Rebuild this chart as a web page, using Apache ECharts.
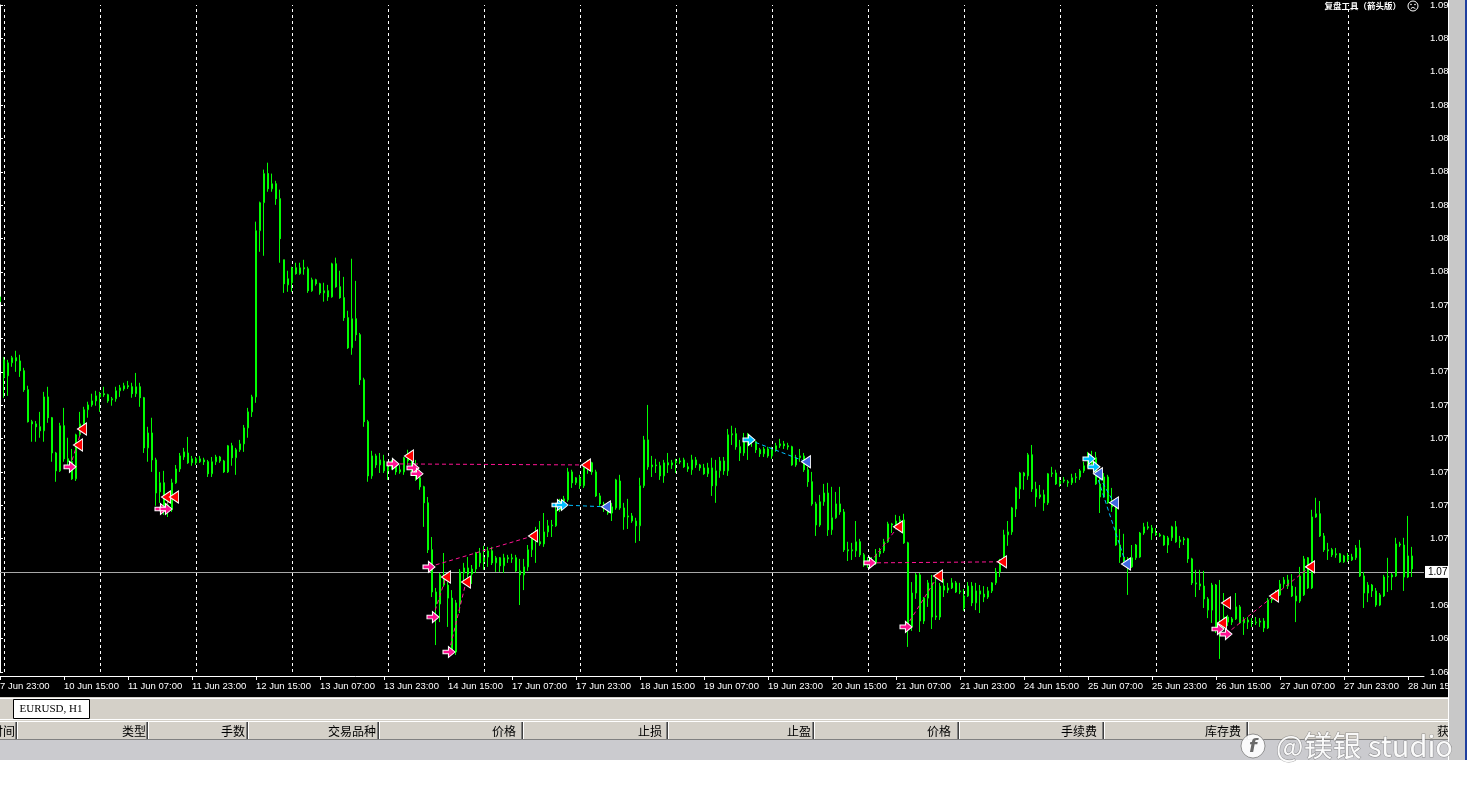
<!DOCTYPE html>
<html><head><meta charset="utf-8">
<script src="https://cdn.jsdelivr.net/npm/echarts@6/dist/echarts.min.js"></script>
<style>html,body{margin:0;padding:0;background:#fff;width:1467px;height:794px;overflow:hidden}#c{width:1467px;height:794px}</style>
</head><body><div id="c"></div>
<script>
// ---------- DATA ----------
const xTickLabels = ['7 Jun 23:00','10 Jun 15:00','11 Jun 07:00','11 Jun 23:00','12 Jun 15:00','13 Jun 07:00','13 Jun 23:00','14 Jun 15:00','17 Jun 07:00','17 Jun 23:00','18 Jun 15:00','19 Jun 07:00','19 Jun 23:00','20 Jun 15:00','21 Jun 07:00','21 Jun 23:00','24 Jun 15:00','25 Jun 07:00','25 Jun 23:00','26 Jun 15:00','27 Jun 07:00','27 Jun 23:00','28 Jun 15:00'];
const yTickLabels = ['1.09','1.08','1.08','1.08','1.08','1.08','1.08','1.08','1.08','1.07','1.07','1.07','1.07','1.07','1.07','1.07','1.07','1.06','1.06','1.06','1.06'];
const daySeparators = [1,25,49,73,97,121,145,169,193,217,241,265,289,313,337];
// [open, close, low, high], one hourly bar each, EURUSD H1
const candles = [
[1.08013,1.08031,1.08009,1.08046],[1.07795,1.07728,1.07653,1.07806],[1.07735,1.07784,1.07660,1.07795],[1.07784,1.07803,1.07769,1.07810],
[1.07803,1.07791,1.07750,1.07829],[1.07791,1.07754,1.07731,1.07814],[1.07754,1.07683,1.07675,1.07765],[1.07683,1.07563,1.07560,1.07698],
[1.07563,1.07555,1.07488,1.07570],[1.07555,1.07544,1.07488,1.07566],[1.07544,1.07529,1.07503,1.07600],[1.07529,1.07656,1.07488,1.07675],
[1.07656,1.07578,1.07559,1.07694],[1.07578,1.07446,1.07413,1.07581],[1.07446,1.07379,1.07338,1.07450],[1.07379,1.07548,1.07375,1.07559],
[1.07548,1.07424,1.07413,1.07615],[1.07424,1.07413,1.07401,1.07503],[1.07413,1.07349,1.07345,1.07461],[1.07349,1.07514,1.07341,1.07518],
[1.07514,1.07555,1.07506,1.07600],[1.07555,1.07608,1.07544,1.07619],[1.07608,1.07626,1.07578,1.07638],[1.07626,1.07641,1.07619,1.07668],
[1.07641,1.07660,1.07623,1.07679],[1.07656,1.07668,1.07600,1.07675],[1.07668,1.07664,1.07656,1.07694],[1.07664,1.07641,1.07634,1.07668],
[1.07645,1.07649,1.07623,1.07656],[1.07649,1.07679,1.07638,1.07694],[1.07679,1.07690,1.07656,1.07701],[1.07686,1.07698,1.07679,1.07709],
[1.07698,1.07694,1.07686,1.07716],[1.07694,1.07668,1.07653,1.07709],[1.07668,1.07694,1.07656,1.07746],[1.07694,1.07653,1.07619,1.07709],
[1.07653,1.07465,1.07446,1.07656],[1.07465,1.07521,1.07413,1.07544],[1.07521,1.07420,1.07375,1.07578],[1.07420,1.07296,1.07248,1.07428],
[1.07300,1.07334,1.07259,1.07375],[1.07334,1.07240,1.07214,1.07379],[1.07240,1.07251,1.07206,1.07278],[1.07233,1.07334,1.07225,1.07349],
[1.07334,1.07386,1.07330,1.07401],[1.07386,1.07435,1.07375,1.07446],[1.07431,1.07450,1.07420,1.07465],[1.07446,1.07409,1.07405,1.07506],
[1.07409,1.07424,1.07398,1.07435],[1.07424,1.07409,1.07401,1.07431],[1.07413,1.07424,1.07409,1.07435],[1.07420,1.07413,1.07401,1.07428],
[1.07413,1.07368,1.07356,1.07420],[1.07368,1.07413,1.07356,1.07431],[1.07413,1.07431,1.07401,1.07439],[1.07431,1.07416,1.07409,1.07435],
[1.07416,1.07375,1.07371,1.07420],[1.07375,1.07473,1.07371,1.07476],[1.07473,1.07428,1.07398,1.07484],[1.07428,1.07458,1.07364,1.07465],
[1.07458,1.07480,1.07450,1.07495],[1.07480,1.07540,1.07450,1.07551],[1.07540,1.07600,1.07503,1.07615],[1.07600,1.07656,1.07581,1.07664],
[1.07656,1.08279,1.07634,1.08313],[1.08279,1.08384,1.08200,1.08388],[1.08384,1.08493,1.08185,1.08508],[1.08493,1.08436,1.08425,1.08534],
[1.08436,1.08455,1.08425,1.08493],[1.08455,1.08399,1.08376,1.08466],[1.08399,1.08249,1.08159,1.08433],[1.08170,1.08080,1.08046,1.08170],
[1.08076,1.08099,1.08050,1.08129],[1.08084,1.08140,1.08050,1.08144],[1.08140,1.08118,1.08114,1.08159],[1.08118,1.08140,1.08114,1.08159],
[1.08140,1.08136,1.08114,1.08170],[1.08136,1.08054,1.08046,1.08144],[1.08054,1.08095,1.08050,1.08103],[1.08095,1.08080,1.08073,1.08099],
[1.08080,1.08046,1.08039,1.08084],[1.08046,1.08054,1.08013,1.08084],[1.08054,1.08031,1.08016,1.08076],[1.08031,1.08155,1.08028,1.08159],
[1.08155,1.08069,1.08065,1.08178],[1.08069,1.08028,1.08024,1.08129],[1.08028,1.07953,1.07941,1.08106],[1.07953,1.07840,1.07836,1.07979],
[1.07840,1.07949,1.07814,1.08174],[1.07949,1.07889,1.07866,1.08091],[1.07889,1.07720,1.07701,1.07896],[1.07720,1.07563,1.07544,1.07728],
[1.07563,1.07360,1.07338,1.07570],[1.07360,1.07435,1.07349,1.07454],[1.07435,1.07401,1.07390,1.07443],[1.07401,1.07420,1.07371,1.07446],
[1.07416,1.07379,1.07371,1.07439],[1.07379,1.07394,1.07345,1.07413],[1.07394,1.07405,1.07383,1.07420],[1.07405,1.07375,1.07364,1.07413],
[1.07375,1.07383,1.07368,1.07401],[1.07375,1.07428,1.07364,1.07431],[1.07428,1.07416,1.07401,1.07458],[1.07416,1.07383,1.07368,1.07420],
[1.07383,1.07353,1.07341,1.07420],[1.07353,1.07319,1.07308,1.07383],[1.07319,1.07259,1.07169,1.07323],[1.07259,1.07083,1.07071,1.07281],
[1.07083,1.06925,1.06906,1.07131],[1.06925,1.06880,1.06726,1.06940],[1.06880,1.06989,1.06812,1.06996],[1.06989,1.06951,1.06944,1.07071],
[1.06951,1.06902,1.06794,1.06962],[1.06902,1.06704,1.06696,1.06932],[1.06700,1.06884,1.06689,1.06895],[1.06880,1.07000,1.06846,1.07011],
[1.06996,1.07015,1.06962,1.07034],[1.07015,1.06992,1.06959,1.07056],[1.06992,1.07011,1.06955,1.07026],[1.07011,1.07071,1.06996,1.07075],
[1.07071,1.07034,1.07019,1.07090],[1.07038,1.07053,1.07008,1.07098],[1.07056,1.07079,1.07019,1.07094],[1.07079,1.07034,1.07026,1.07094],
[1.07034,1.07053,1.07000,1.07060],[1.07053,1.07023,1.07000,1.07056],[1.07023,1.07053,1.06996,1.07068],[1.07053,1.07049,1.07034,1.07064],
[1.07049,1.07053,1.07034,1.07068],[1.07053,1.07004,1.07000,1.07064],[1.07004,1.06989,1.06876,1.07049],[1.06989,1.07019,1.06932,1.07049],
[1.07019,1.07083,1.07004,1.07101],[1.07083,1.07128,1.07056,1.07146],[1.07128,1.07113,1.07034,1.07169],[1.07113,1.07105,1.07098,1.07191],
[1.07105,1.07150,1.07094,1.07221],[1.07150,1.07173,1.07131,1.07195],[1.07173,1.07176,1.07131,1.07195],[1.07173,1.07233,1.07169,1.07244],
[1.07233,1.07266,1.07225,1.07274],[1.07266,1.07274,1.07259,1.07285],[1.07270,1.07375,1.07263,1.07390],[1.07375,1.07334,1.07315,1.07383],
[1.07334,1.07353,1.07326,1.07356],[1.07353,1.07323,1.07311,1.07364],[1.07323,1.07390,1.07315,1.07394],[1.07390,1.07413,1.07368,1.07420],
[1.07409,1.07375,1.07364,1.07413],[1.07375,1.07285,1.07281,1.07383],[1.07285,1.07255,1.07248,1.07296],[1.07255,1.07248,1.07225,1.07263],
[1.07248,1.07221,1.07214,1.07259],[1.07221,1.07244,1.07191,1.07259],[1.07240,1.07345,1.07233,1.07349],[1.07341,1.07240,1.07233,1.07364],
[1.07240,1.07206,1.07158,1.07259],[1.07206,1.07210,1.07161,1.07274],[1.07210,1.07191,1.07184,1.07221],[1.07191,1.07173,1.07109,1.07203],
[1.07173,1.07323,1.07116,1.07353],[1.07323,1.07495,1.07315,1.07510],[1.07495,1.07394,1.07383,1.07626],[1.07394,1.07401,1.07356,1.07435],
[1.07401,1.07398,1.07371,1.07424],[1.07398,1.07360,1.07345,1.07413],[1.07360,1.07409,1.07334,1.07420],[1.07409,1.07401,1.07371,1.07446],
[1.07401,1.07409,1.07386,1.07420],[1.07409,1.07416,1.07371,1.07424],[1.07416,1.07413,1.07405,1.07428],[1.07420,1.07394,1.07390,1.07428],
[1.07394,1.07386,1.07375,1.07409],[1.07383,1.07420,1.07364,1.07439],[1.07420,1.07401,1.07390,1.07431],[1.07401,1.07390,1.07379,1.07405],
[1.07390,1.07368,1.07364,1.07405],[1.07368,1.07390,1.07356,1.07409],[1.07390,1.07323,1.07285,1.07428],[1.07323,1.07379,1.07259,1.07420],
[1.07379,1.07416,1.07353,1.07431],[1.07416,1.07379,1.07364,1.07431],[1.07379,1.07514,1.07360,1.07536],[1.07514,1.07518,1.07476,1.07548],
[1.07518,1.07469,1.07458,1.07540],[1.07469,1.07446,1.07416,1.07495],[1.07446,1.07495,1.07435,1.07521],[1.07495,1.07491,1.07420,1.07521],
[1.07491,1.07488,1.07469,1.07495],[1.07488,1.07458,1.07446,1.07491],[1.07458,1.07443,1.07431,1.07465],[1.07443,1.07461,1.07431,1.07469],
[1.07461,1.07435,1.07428,1.07469],[1.07435,1.07458,1.07424,1.07469],[1.07458,1.07473,1.07450,1.07484],[1.07473,1.07480,1.07465,1.07499],
[1.07480,1.07473,1.07461,1.07491],[1.07473,1.07469,1.07458,1.07484],[1.07469,1.07401,1.07398,1.07473],[1.07401,1.07428,1.07394,1.07439],
[1.07428,1.07435,1.07413,1.07461],[1.07435,1.07383,1.07375,1.07446],[1.07383,1.07338,1.07319,1.07394],[1.07338,1.07255,1.07248,1.07375],
[1.07255,1.07176,1.07135,1.07263],[1.07176,1.07263,1.07169,1.07289],[1.07263,1.07296,1.07248,1.07330],[1.07296,1.07158,1.07135,1.07334],
[1.07158,1.07203,1.07139,1.07319],[1.07203,1.07255,1.07199,1.07300],[1.07255,1.07225,1.07214,1.07319],[1.07225,1.07083,1.07075,1.07236],
[1.07083,1.07079,1.07041,1.07113],[1.07079,1.07083,1.07045,1.07109],[1.07079,1.07113,1.07056,1.07191],[1.07113,1.07064,1.07056,1.07124],
[1.07064,1.07026,1.07019,1.07071],[1.07026,1.07045,1.07015,1.07056],[1.07045,1.07038,1.07026,1.07056],[1.07034,1.07068,1.07026,1.07086],
[1.07068,1.07079,1.07056,1.07090],[1.07079,1.07113,1.07071,1.07124],[1.07113,1.07180,1.07109,1.07188],[1.07180,1.07176,1.07146,1.07184],
[1.07176,1.07191,1.07169,1.07214],[1.07191,1.07195,1.07184,1.07210],[1.07195,1.07109,1.07105,1.07218],[1.07109,1.06794,1.06719,1.07113],
[1.06794,1.06921,1.06779,1.06962],[1.06921,1.06989,1.06899,1.06996],[1.06989,1.06816,1.06775,1.06996],[1.06816,1.06902,1.06805,1.06906],
[1.06902,1.06959,1.06869,1.06970],[1.06959,1.06831,1.06786,1.06989],[1.06831,1.06835,1.06820,1.06981],[1.06831,1.06947,1.06820,1.06959],
[1.06947,1.06932,1.06906,1.06974],[1.06932,1.06940,1.06921,1.06959],[1.06940,1.06959,1.06936,1.06977],[1.06959,1.06925,1.06921,1.06966],
[1.06925,1.06929,1.06917,1.06959],[1.06865,1.06910,1.06854,1.06936],[1.06910,1.06947,1.06906,1.06962],[1.06947,1.06884,1.06872,1.06962],
[1.06884,1.06929,1.06857,1.06959],[1.06929,1.06917,1.06846,1.06951],[1.06917,1.06906,1.06887,1.06947],[1.06906,1.06929,1.06899,1.06944],
[1.06929,1.06959,1.06921,1.06962],[1.06959,1.07000,1.06951,1.07015],[1.07000,1.07041,1.06981,1.07049],[1.07041,1.07139,1.07038,1.07158],
[1.07139,1.07150,1.07098,1.07191],[1.07150,1.07240,1.07139,1.07244],[1.07236,1.07315,1.07206,1.07319],[1.07311,1.07371,1.07274,1.07375],
[1.07371,1.07360,1.07308,1.07375],[1.07360,1.07439,1.07345,1.07446],[1.07439,1.07311,1.07300,1.07476],[1.07311,1.07281,1.07244,1.07338],
[1.07281,1.07289,1.07274,1.07326],[1.07289,1.07259,1.07229,1.07308],[1.07259,1.07368,1.07251,1.07371],[1.07368,1.07371,1.07356,1.07394],
[1.07371,1.07330,1.07326,1.07383],[1.07330,1.07341,1.07319,1.07356],[1.07341,1.07345,1.07334,1.07356],[1.07338,1.07334,1.07319,1.07345],
[1.07334,1.07353,1.07326,1.07368],[1.07353,1.07356,1.07334,1.07371],[1.07356,1.07379,1.07345,1.07386],[1.07379,1.07398,1.07371,1.07413],
[1.07398,1.07405,1.07390,1.07450],[1.07405,1.07428,1.07401,1.07454],[1.07428,1.07330,1.07326,1.07450],[1.07330,1.07281,1.07221,1.07371],
[1.07281,1.07356,1.07278,1.07371],[1.07356,1.07259,1.07255,1.07364],[1.07259,1.07244,1.07225,1.07315],[1.07244,1.07101,1.07098,1.07248],
[1.07101,1.07056,1.07034,1.07161],[1.07056,1.07041,1.07034,1.07143],[1.07041,1.07049,1.06914,1.07056],[1.07019,1.07053,1.07015,1.07101],
[1.07053,1.07101,1.07045,1.07105],[1.07056,1.07146,1.07053,1.07150],[1.07146,1.07169,1.07139,1.07184],[1.07169,1.07165,1.07158,1.07188],
[1.07165,1.07146,1.07120,1.07176],[1.07146,1.07139,1.07135,1.07165],[1.07139,1.07135,1.07131,1.07146],[1.07135,1.07101,1.07098,1.07139],
[1.07101,1.07128,1.07071,1.07135],[1.07128,1.07169,1.07116,1.07173],[1.07169,1.07113,1.07109,1.07191],[1.07113,1.07120,1.07090,1.07135],
[1.07120,1.07124,1.07101,1.07131],[1.07124,1.07049,1.07034,1.07128],[1.07049,1.06959,1.06951,1.07053],[1.06959,1.06955,1.06906,1.07008],
[1.06955,1.06947,1.06932,1.07008],[1.06947,1.06899,1.06865,1.07004],[1.06899,1.06857,1.06827,1.06906],[1.06857,1.06951,1.06809,1.06959],
[1.06951,1.06782,1.06771,1.06955],[1.06782,1.06775,1.06674,1.06970],[1.06809,1.06831,1.06782,1.06921],[1.06831,1.06812,1.06797,1.06839],
[1.06812,1.06824,1.06801,1.06831],[1.06824,1.06869,1.06820,1.06921],[1.06869,1.06809,1.06805,1.06876],[1.06809,1.06820,1.06764,1.06831],
[1.06820,1.06812,1.06786,1.06831],[1.06812,1.06809,1.06794,1.06827],[1.06809,1.06812,1.06801,1.06831],[1.06812,1.06816,1.06794,1.06827],
[1.06816,1.06790,1.06775,1.06827],[1.06790,1.06895,1.06786,1.06902],[1.06895,1.06899,1.06884,1.06910],[1.06899,1.06917,1.06895,1.06932],
[1.06914,1.06955,1.06910,1.06970],[1.06955,1.06970,1.06940,1.06981],[1.06970,1.06947,1.06936,1.06989],[1.06947,1.06910,1.06906,1.06992],
[1.06910,1.06891,1.06812,1.06944],[1.06891,1.06985,1.06884,1.07019],[1.06914,1.07049,1.06910,1.07060],[1.07053,1.06940,1.06936,1.07056],
[1.06940,1.07206,1.06936,1.07233],[1.07206,1.07218,1.07203,1.07278],[1.07218,1.07135,1.07131,1.07266],[1.07135,1.07083,1.07075,1.07146],
[1.07083,1.07079,1.07045,1.07109],[1.07083,1.07064,1.07056,1.07090],[1.07064,1.07068,1.07053,1.07090],[1.07068,1.07038,1.07034,1.07071],
[1.07038,1.07060,1.07034,1.07064],[1.07060,1.07045,1.07038,1.07071],[1.07045,1.07056,1.07041,1.07068],[1.07053,1.07090,1.07045,1.07101],
[1.07090,1.06985,1.06981,1.07120],[1.06985,1.06921,1.06865,1.07000],[1.06921,1.06951,1.06887,1.06962],[1.06951,1.06929,1.06906,1.06955],
[1.06929,1.06876,1.06869,1.06940],[1.06876,1.06914,1.06872,1.06921],[1.06910,1.06981,1.06906,1.06989],[1.06981,1.06983,1.06925,1.07053],
[1.06981,1.06989,1.06932,1.06996],[1.06985,1.07105,1.06981,1.07128],[1.07105,1.07101,1.07094,1.07113],[1.07101,1.06981,1.06929,1.07128],
[1.06981,1.07060,1.06977,1.07210],[1.07060,1.07011,1.06981,1.07094]
];
// trade arrows: [bar position, price]
const entryPink = [[17.5,1.07394],[40.25,1.07236],[41.5,1.07236],[98.25,1.07405],[103.25,1.07390],[104.25,1.07368],[107.25,1.07019],[108.25,1.06831],[112.25,1.06700],[217.5,1.07034],[226.5,1.06794],[304.5,1.06786],[306.5,1.06767]];
const exitRed = [[20.5,1.07536],[19.5,1.07476],[41.5,1.07281],[43.5,1.07281],[102.25,1.07435],[146.5,1.07401],[133.25,1.07135],[111.5,1.06981],[116.5,1.06962],[224.5,1.07169],[250.5,1.07038],[234.5,1.06985],[306.5,1.06884],[305.5,1.06809],[318.5,1.06910],[327.5,1.07019]];
const entryCyan = [[139.5,1.07251],[140.5,1.07251],[187.25,1.07495],[272.25,1.07424],[273.5,1.07394]];
const exitBlue = [[151.5,1.07244],[201.5,1.07413],[274.5,1.07368],[278.5,1.07259],[281.5,1.07030]];
const pinkLinks = [[17.5,1.07394,20.5,1.07536],[40.25,1.07236,43.5,1.07281],[98.25,1.07405,146.5,1.07401],[107.25,1.07019,133.25,1.07135],[108.25,1.06831,111.5,1.06981],[112.25,1.06700,116.5,1.06962],[217.5,1.07034,250.5,1.07038],[217.5,1.07034,224.5,1.07169],[226.5,1.06794,234.5,1.06985],[306.5,1.06767,327.5,1.07019]];
const cyanLinks = [[140.5,1.07251,151.5,1.07244],[187.25,1.07495,201.5,1.07413],[272.25,1.07424,278.5,1.07259],[273.5,1.07394,281.5,1.07030]];
const headerTexts = ['时间','类型','手数','交易品种','价格','止损','止盈','价格','手续费','库存费'];

// ---------- CONFIG ----------
const BAR_SLOTS = 357, LABEL_EVERY = 16;
const Y_MIN = 1.06625, Y_MAX = 1.09125, Y_STEP = 0.00125;
const headerRight = [15,146,245,376,516,662,811,951,1097,1241];
const headerSeps = [16,147,247,378,522,667,813,958,1103,1247];
const RIGHT_ARROW = 'path://M0,4 L5,4 L5,0 L11,6 L5,12 L5,8 L0,8 Z';
const LEFT_TRI = 'path://M0,6 L9,0 L9,12 Z';

const cats = Array.from({length: BAR_SLOTS}, (_, i) => String(i));
const lastClose = candles[candles.length - 1][1];
const showTick = (i) => i % LABEL_EVERY === 0 && i / LABEL_EVERY < xTickLabels.length;

const graphics = [];
// bottom terminal panel
graphics.push({type:'rect', shape:{x:0,y:697,width:1449,height:63}, style:{fill:'#d4d0c8'}, z:50});
graphics.push({type:'rect', shape:{x:0,y:760,width:1467,height:34}, style:{fill:'#ffffff'}, z:50});
graphics.push({type:'rect', shape:{x:0,y:698,width:1449,height:1}, style:{fill:'#ffffff'}, z:51});
graphics.push({type:'rect', shape:{x:13.5,y:699.5,width:76,height:19}, style:{fill:'#ffffff', stroke:'#000', lineWidth:1}, z:52});
graphics.push({type:'text', x:51, y:709, style:{text:'EURUSD, H1', fill:'#000', font:'11px "Liberation Serif"', align:'center', verticalAlign:'middle'}, z:53});
graphics.push({type:'rect', shape:{x:0,y:719,width:1449,height:1}, style:{fill:'#ffffff'}, z:51});
graphics.push({type:'rect', shape:{x:0,y:721,width:1449,height:19}, style:{fill:'#d4d0c8'}, z:51});
graphics.push({type:'rect', shape:{x:0,y:721,width:1449,height:1}, style:{fill:'#ffffff'}, z:52});
graphics.push({type:'rect', shape:{x:0,y:739,width:1449,height:1}, style:{fill:'#808080'}, z:52});
graphics.push({type:'rect', shape:{x:0,y:740,width:1449,height:20}, style:{fill:'#cbcbcf'}, z:51});
headerSeps.forEach(x => {
  graphics.push({type:'rect', shape:{x:x-1,y:722,width:1,height:17}, style:{fill:'#808080'}, z:52});
  graphics.push({type:'rect', shape:{x:x,y:722,width:1,height:17}, style:{fill:'#404040'}, z:52});
  graphics.push({type:'rect', shape:{x:x+1,y:722,width:1,height:17}, style:{fill:'#ffffff'}, z:52});
});
headerTexts.forEach((t, k) => {
  graphics.push({type:'text', x:headerRight[k], y:731, style:{text:t, fill:'#000', font:'12px "Noto Sans CJK SC"', align:'right', verticalAlign:'middle'}, z:53});
});
graphics.push({type:'text', x:1437, y:731, style:{text:'获利', fill:'#000', font:'12px "Noto Sans CJK SC"', align:'left', verticalAlign:'middle'}, z:53});
// right strip
graphics.push({type:'rect', shape:{x:1449,y:0,width:18,height:760}, style:{fill:'#c8c8c8'}, z:60});
graphics.push({type:'rect', shape:{x:1448,y:0,width:1,height:760}, style:{fill:'#ffffff'}, z:60});
graphics.push({type:'rect', shape:{x:1465,y:0,width:2,height:760}, style:{fill:'#1f3f9f'}, z:60});
// watermark
graphics.push({type:'circle', shape:{cx:1253,cy:746,r:12}, style:{fill:'rgba(255,255,255,0.9)', stroke:'rgba(90,90,90,0.6)', lineWidth:1}, z:70});
graphics.push({type:'text', x:1253, y:747, style:{text:'f', fill:'#6a6a6a', font:'italic bold 18px "DejaVu Sans"', align:'center', verticalAlign:'middle'}, z:71});
graphics.push({type:'text', x:1276, y:746, style:{text:'@镁银 studio', fill:'rgba(255,255,255,0.92)', stroke:'rgba(90,90,90,0.55)', lineWidth:1, font:'29px "Noto Sans CJK SC"', align:'left', verticalAlign:'middle'}, z:71});
// top-right title + icon
graphics.push({type:'text', x:1401, y:6, style:{text:'复盘工具（箭头版）', fill:'#fff', font:'bold 8.5px "Noto Sans CJK SC"', align:'right', verticalAlign:'middle'}, z:40});
graphics.push({type:'circle', shape:{cx:1413,cy:6,r:5}, style:{fill:'#000', stroke:'#fff', lineWidth:1}, z:40});
graphics.push({type:'circle', shape:{cx:1411,cy:4.5,r:0.8}, style:{fill:'#fff'}, z:41});
graphics.push({type:'circle', shape:{cx:1415,cy:4.5,r:0.8}, style:{fill:'#fff'}, z:41});
graphics.push({type:'arc', shape:{cx:1413,cy:10,r:2.5,startAngle:Math.PI*1.15,endAngle:Math.PI*1.85}, style:{stroke:'#fff', lineWidth:1, fill:null}, z:41});

const chart = echarts.init(document.getElementById('c'), null, {renderer:'canvas', width:1467, height:794});
chart.setOption({
  animation: false,
  backgroundColor: '#000000',
  grid: {left: 0, right: 43, top: 5, bottom: 122, containLabel: false, outerBoundsMode: 'none'},
  xAxis: [
    {type:'category', data: cats, boundaryGap: false, offset: 4,
     axisLine:{show:true, lineStyle:{color:'#ffffff', width:1}},
     axisTick:{show:true, interval:(i)=>showTick(i), length:4, lineStyle:{color:'#ffffff'}},
     axisLabel:{show:true, interval:(i)=>showTick(i), formatter:(v, i)=> xTickLabels[i / LABEL_EVERY] || '', color:'#ffffff', fontSize:9.5, fontFamily:'Liberation Sans', align:'left', margin:5, showMinLabel:true},
     splitLine:{show:false}},
    {type:'value', min:0, max:BAR_SLOTS-1, show:false}
  ],
  yAxis: [{type:'value', position:'right', min:Y_MIN, max:Y_MAX, interval:Y_STEP,
    axisLine:{show:true, lineStyle:{color:'#ffffff', width:1}},
    axisTick:{show:true, length:3, lineStyle:{color:'#ffffff'}},
    axisLabel:{color:'#ffffff', fontSize:9.5, fontFamily:'Liberation Sans', margin:6,
      formatter:(v)=>{ const k = Math.round((Y_MAX - v) / Y_STEP); return yTickLabels[k] || ''; }},
    splitLine:{show:false}}],
  graphic: {elements: graphics},
  series: [
    {type:'candlestick', xAxisIndex:0, yAxisIndex:0, data: candles, barWidth: 2,
     itemStyle:{color:'#000000', color0:'#ffffff', borderColor:'#00ff00', borderColor0:'#00ff00', borderColorDoji:'#00ff00', borderWidth:1},
     emphasis:{disabled:true}, silent:true, z:2,
     markLine:{silent:true, symbol:['none','none'], animation:false, z:1,
       data: daySeparators.map(i => ({xAxis: i, lineStyle:{color:'#ffffff', type:[3,3], width:1}, label:{show:false}}))
        .concat([{yAxis: lastClose, lineStyle:{color:'#a8a8a8', type:'solid', width:1},
          label:{show:true, position:'end', formatter: lastClose.toFixed(2), color:'#000', backgroundColor:'#fff', fontSize:10, fontFamily:'Liberation Sans', padding:[1,3,1,3], distance:1}}])
     }},
    {type:'lines', coordinateSystem:'cartesian2d', xAxisIndex:1, yAxisIndex:0, polyline:false, silent:true, z:3,
     lineStyle:{type:[4,3], width:1, opacity:1},
     data: pinkLinks.map(s => ({coords:[[s[0],s[1]],[s[2],s[3]]], lineStyle:{color:'#ff1493'}}))
       .concat(cyanLinks.map(s => ({coords:[[s[0],s[1]],[s[2],s[3]]], lineStyle:{color:'#00bfff'}})))},
    {type:'scatter', xAxisIndex:1, yAxisIndex:0, data: entryPink, symbol: RIGHT_ARROW, symbolSize:[12,11], silent:true, z:5,
     itemStyle:{color:'#ff1493', borderColor:'#ffffff', borderWidth:1, opacity:1}},
    {type:'scatter', xAxisIndex:1, yAxisIndex:0, data: exitRed, symbol: LEFT_TRI, symbolSize:[9,12], silent:true, z:5,
     itemStyle:{color:'#ff0000', borderColor:'#ffffff', borderWidth:1, opacity:1}},
    {type:'scatter', xAxisIndex:1, yAxisIndex:0, data: entryCyan, symbol: RIGHT_ARROW, symbolSize:[12,11], silent:true, z:5,
     itemStyle:{color:'#00bfff', borderColor:'#ffffff', borderWidth:1, opacity:1}},
    {type:'scatter', xAxisIndex:1, yAxisIndex:0, data: exitBlue, symbol: LEFT_TRI, symbolSize:[9,12], silent:true, z:5,
     itemStyle:{color:'#4169e1', borderColor:'#ffffff', borderWidth:1, opacity:1}}
  ]
});
</script></body></html>
